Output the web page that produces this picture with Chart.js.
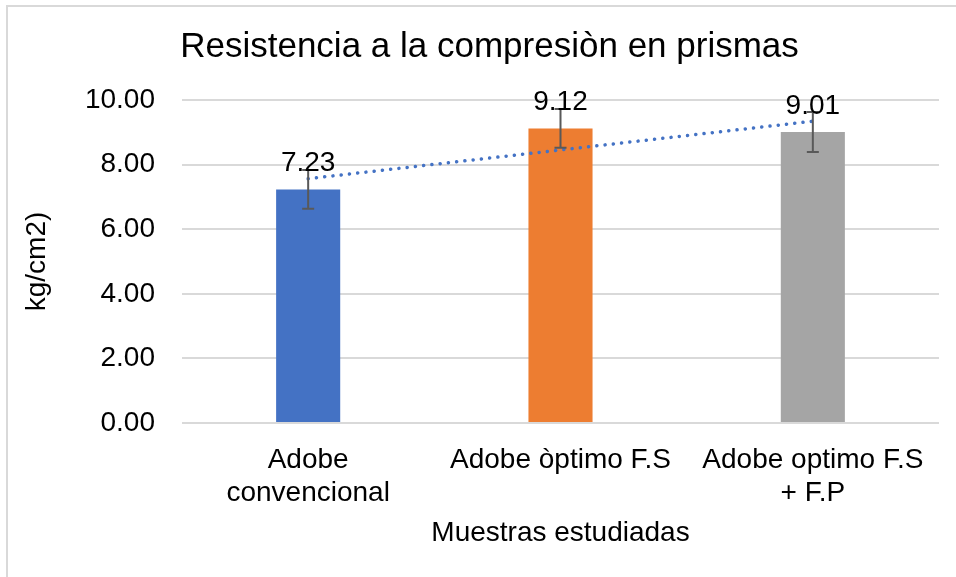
<!DOCTYPE html>
<html>
<head>
<meta charset="utf-8">
<script src="https://cdn.jsdelivr.net/npm/chart.js@4/dist/chart.umd.min.js"></script>
<style>
  html, body { margin: 0; padding: 0; background: #ffffff; }
  #wrap { position: relative; width: 956px; height: 577px; }
</style>
</head>
<body>
<div id="wrap"><canvas id="c" width="956" height="577"></canvas></div>
<script>
// ---- Data ----
const categories = [["Adobe", "convencional"], "Adobe òptimo F.S", ["Adobe optimo F.S", "+ F.P"]];
const values = [7.23, 9.12, 9.01];
const errors = [0.60, 0.60, 0.62];
const barColors = ["#4472C4", "#ED7D31", "#A5A5A5"];
const yTicks = [0, 2, 4, 6, 8, 10];
const titleText = "Resistencia a la compresiòn en prismas";
const xTitle = "Muestras estudiadas";
const yTitle = "kg/cm2)";

// Linear trendline (least squares over category index), as the spreadsheet draws it
const n = values.length;
const xs = values.map((_, i) => i + 1);
const mx = xs.reduce((a, b) => a + b, 0) / n;
const my = values.reduce((a, b) => a + b, 0) / n;
let sxy = 0, sxx = 0;
for (let i = 0; i < n; i++) { sxy += (xs[i] - mx) * (values[i] - my); sxx += (xs[i] - mx) ** 2; }
const slope = sxy / sxx;
const trend = xs.map(x => my + slope * (x - mx));

const FONT = "'Liberation Sans', Arial, sans-serif";

const borderPlugin = {
  id: 'outerBorder',
  beforeDraw(chart) {
    const ctx = chart.ctx;
    ctx.save();
    ctx.fillStyle = '#ffffff';
    ctx.fillRect(0, 0, chart.width, chart.height);
    ctx.strokeStyle = '#d9d9d9';
    ctx.lineWidth = 2;
    ctx.strokeRect(7, 6, 1200, 1200);
    ctx.restore();
  }
};

const errorBarPlugin = {
  id: 'errorBars',
  afterDatasetsDraw(chart) {
    const ctx = chart.ctx;
    const meta = chart.getDatasetMeta(0);
    const ys = chart.scales.y;
    ctx.save();
    ctx.strokeStyle = '#595959';
    ctx.lineWidth = 2;
    meta.data.forEach((bar, i) => {
      const x = bar.x;
      const yTop = ys.getPixelForValue(values[i] + errors[i]);
      const yBot = ys.getPixelForValue(values[i] - errors[i]);
      ctx.beginPath();
      ctx.moveTo(x, yTop); ctx.lineTo(x, yBot);
      ctx.moveTo(x - 6, yTop); ctx.lineTo(x + 6, yTop);
      ctx.moveTo(x - 6, yBot); ctx.lineTo(x + 6, yBot);
      ctx.stroke();
    });
    ctx.restore();
  }
};

const labelPlugin = {
  id: 'dataLabels',
  afterDraw(chart) {
    const ctx = chart.ctx;
    const meta = chart.getDatasetMeta(0);
    ctx.save();
    ctx.fillStyle = '#000000';
    ctx.font = "28px " + FONT;
    ctx.textAlign = 'center';
    ctx.textBaseline = 'alphabetic';
    meta.data.forEach((bar, i) => {
      ctx.fillText(values[i].toFixed(2), bar.x, bar.y - 18);
    });
    ctx.restore();
  }
};

new Chart(document.getElementById('c'), {
  type: 'bar',
  data: {
    labels: categories,
    datasets: [
      {
        type: 'bar',
        data: values,
        backgroundColor: barColors,
        borderWidth: 0,
        categoryPercentage: 1.0,
        barPercentage: 0.254,
        order: 2
      },
      {
        type: 'line',
        data: trend,
        borderColor: '#4472C4',
        borderWidth: 3.5,
        borderDash: [0.1, 8.2],
        borderCapStyle: 'round',
        pointRadius: 0,
        fill: false,
        tension: 0,
        order: 1
      }
    ]
  },
  options: {
    responsive: false,
    animation: false,
    devicePixelRatio: 1,
    layout: { padding: { left: 40, right: 17, top: 0, bottom: 27 } },
    plugins: {
      legend: { display: false },
      tooltip: { enabled: false },
      title: {
        display: true,
        text: titleText,
        color: '#000000',
        font: { family: FONT, size: 35, weight: 'normal' },
        padding: { top: 26, bottom: 32 }
      }
    },
    scales: {
      x: {
        grid: { display: false, drawTicks: false },
        border: { display: false },
        ticks: { color: '#000000', font: { family: FONT, size: 28 }, padding: 20, maxRotation: 0, autoSkip: false },
        title: { display: true, text: xTitle, color: '#000000', font: { family: FONT, size: 28 }, padding: { top: 0, bottom: 0 } },
        afterFit(s) { s.height = 127; }
      },
      y: {
        min: 0, max: 10,
        afterBuildTicks(s) { s.ticks = yTicks.map(v => ({ value: v })); },
        grid: { color: '#d9d9d9', lineWidth: 2, drawTicks: false },
        border: { display: false },
        ticks: { color: '#000000', font: { family: FONT, size: 28 }, padding: 27, callback: v => Number(v).toFixed(2) },
        title: { display: true, text: yTitle, color: '#000000', font: { family: FONT, size: 28 }, padding: { top: -20, bottom: 0 } },
        afterFit(s) { s.width = 142; }
      }
    }
  },
  plugins: [borderPlugin, errorBarPlugin, labelPlugin]
});
</script>
</body>
</html>
